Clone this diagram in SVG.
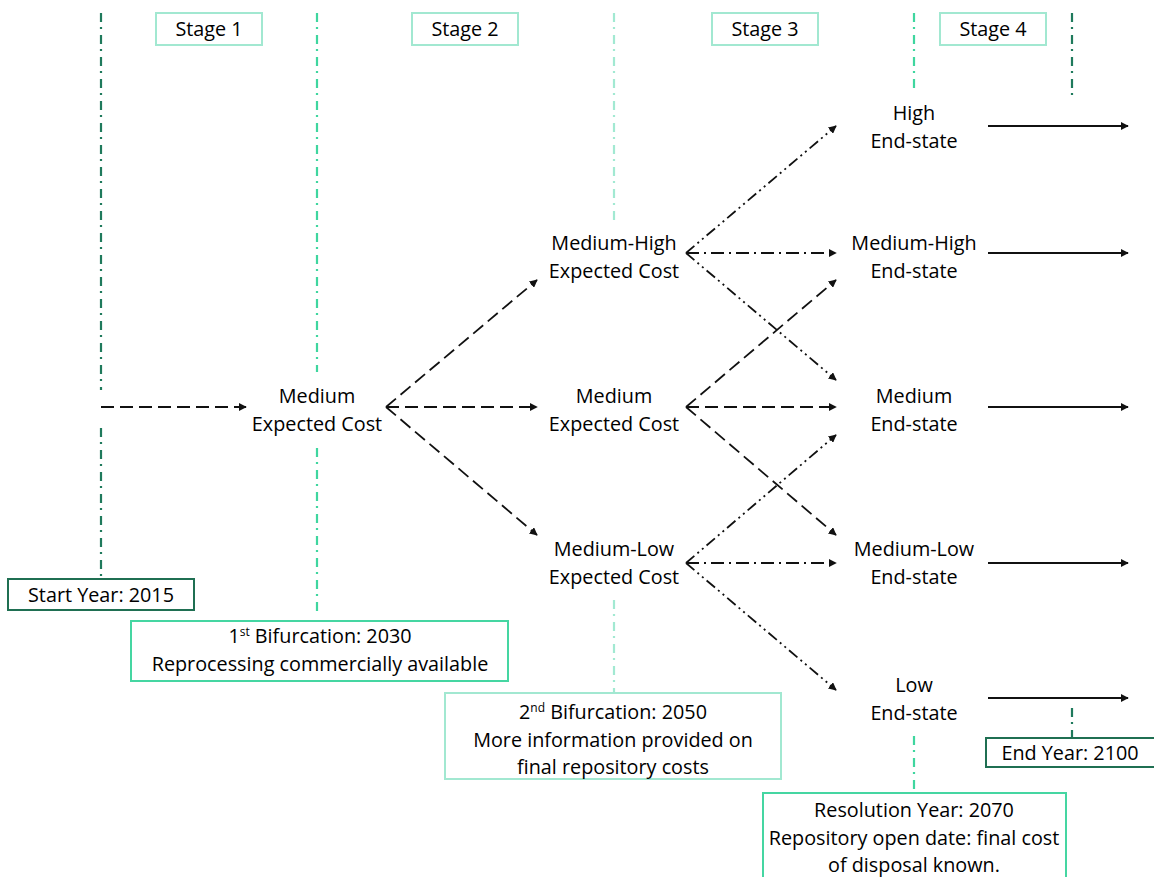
<svg xmlns="http://www.w3.org/2000/svg" width="1154" height="877" viewBox="0 0 1154 877">
<style>
text{font-family:"Open Sans","Liberation Sans",sans-serif;font-size:19.8px;fill:#000;text-anchor:middle}
.sup{font-size:12px}
.vdark{stroke:#1f7a5c;stroke-width:2.2;stroke-dasharray:9 5 2 6;fill:none}
.vbright{stroke:#3fd69f;stroke-width:2.2;stroke-dasharray:9 5 2 6;fill:none}
.vlight{stroke:#a2e9d2;stroke-width:2.2;stroke-dasharray:9 5 2 6;fill:none}
.bdark{fill:#fff;stroke:#1f6f52;stroke-width:2}
.bbright{fill:#fff;stroke:#45d6a2;stroke-width:2}
.blight{fill:#fff;stroke:#a2e8d1;stroke-width:2}
.c{stroke:#111;stroke-width:1.8;fill:none;marker-end:url(#ah)}
.dash{stroke-dasharray:13 6}
.dd{stroke-dasharray:13 5 2 5}
.ddd{stroke-dasharray:11 4 2 4 2 4}
</style>
<defs>
<marker id="ah" viewBox="0 0 10 10" refX="9" refY="5" markerWidth="4.5" markerHeight="4.5" orient="auto" markerUnits="strokeWidth">
<path d="M0,0 L10,5 L0,10 z" fill="#111"/>
</marker>
</defs>
<rect width="1154" height="877" fill="#fff"/>
<g id="timelines">
<path class="vdark" d="M101,13 V390 M101,428 V578"/>
<path class="vbright" d="M317,13 V372 M317,448 V614"/>
<path class="vlight" d="M614,13 V220 M614,600 V692"/>
<path class="vbright" d="M914,13 V88 M914,736 V792"/>
<path class="vdark" d="M1072,13 V95 M1072,708 V737"/>
</g>
<g id="stage1"><rect class="blight" x="156" y="13" width="106" height="32"/><text x="209" y="36">Stage 1</text></g>
<g id="stage2"><rect class="blight" x="412" y="13" width="106" height="32"/><text x="465" y="36">Stage 2</text></g>
<g id="stage3"><rect class="blight" x="712" y="13" width="106" height="32"/><text x="765" y="36">Stage 3</text></g>
<g id="stage4"><rect class="blight" x="940" y="13" width="106" height="32"/><text x="993" y="36">Stage 4</text></g>
<g id="connectors">
<line class="c dash" x1="101" y1="407" x2="246" y2="407"/>
<line class="c dash" x1="386" y1="407" x2="537" y2="280"/>
<line class="c dash" x1="386" y1="407" x2="537" y2="407"/>
<line class="c dash" x1="386" y1="407" x2="537" y2="535"/>
<line class="c ddd" x1="686" y1="253" x2="836" y2="126"/>
<line class="c dd" x1="686" y1="253" x2="836" y2="253"/>
<line class="c ddd" x1="686" y1="253" x2="836" y2="380"/>
<line class="c dash" x1="686" y1="407" x2="836" y2="280"/>
<line class="c dash" x1="686" y1="407" x2="836" y2="407"/>
<line class="c dash" x1="686" y1="407" x2="836" y2="535"/>
<line class="c ddd" x1="686" y1="563" x2="836" y2="435"/>
<line class="c dd" x1="686" y1="563" x2="836" y2="563"/>
<line class="c ddd" x1="686" y1="563" x2="836" y2="690"/>
<line class="c" x1="988" y1="126" x2="1128" y2="126"/>
<line class="c" x1="988" y1="253" x2="1128" y2="253"/>
<line class="c" x1="988" y1="407" x2="1128" y2="407"/>
<line class="c" x1="988" y1="563" x2="1128" y2="563"/>
<line class="c" x1="988" y1="698" x2="1128" y2="698"/>
</g>
<g id="n-medium-1"><text x="317" y="403">Medium</text><text x="317" y="431">Expected Cost</text></g>
<g id="n-medhigh-2"><text x="614" y="250">Medium-High</text><text x="614" y="278">Expected Cost</text></g>
<g id="n-medium-2"><text x="614" y="403">Medium</text><text x="614" y="431">Expected Cost</text></g>
<g id="n-medlow-2"><text x="614" y="556">Medium-Low</text><text x="614" y="584">Expected Cost</text></g>
<g id="n-high-end"><text x="914" y="120">High</text><text x="914" y="148">End-state</text></g>
<g id="n-medhigh-end"><text x="914" y="250">Medium-High</text><text x="914" y="278">End-state</text></g>
<g id="n-medium-end"><text x="914" y="403">Medium</text><text x="914" y="431">End-state</text></g>
<g id="n-medlow-end"><text x="914" y="556">Medium-Low</text><text x="914" y="584">End-state</text></g>
<g id="n-low-end"><text x="914" y="692">Low</text><text x="914" y="720">End-state</text></g>
<g id="start-year"><rect class="bdark" x="8" y="579" width="186" height="31"/><text x="101" y="602">Start Year: 2015</text></g>
<g id="bif1"><rect class="bbright" x="131" y="621" width="377" height="60"/>
<text x="320" y="643">1<tspan class="sup" dy="-7">st</tspan><tspan dy="7"> Bifurcation: 2030</tspan></text>
<text x="320" y="671">Reprocessing commercially available</text></g>
<g id="bif2"><rect class="blight" x="445" y="693" width="336" height="86"/>
<text x="613" y="719">2<tspan class="sup" dy="-7">nd</tspan><tspan dy="7"> Bifurcation: 2050</tspan></text>
<text x="613" y="747">More information provided on</text>
<text x="613" y="774">final repository costs</text></g>
<g id="resolution"><rect class="bbright" x="763" y="793" width="303" height="90"/>
<text x="914" y="817">Resolution Year: 2070</text>
<text x="914" y="845">Repository open date: final cost</text>
<text x="914" y="872">of disposal known.</text></g>
<g id="end-year"><rect class="bdark" x="986" y="738" width="175" height="29"/><text x="1070" y="760">End Year: 2100</text></g>
</svg>
